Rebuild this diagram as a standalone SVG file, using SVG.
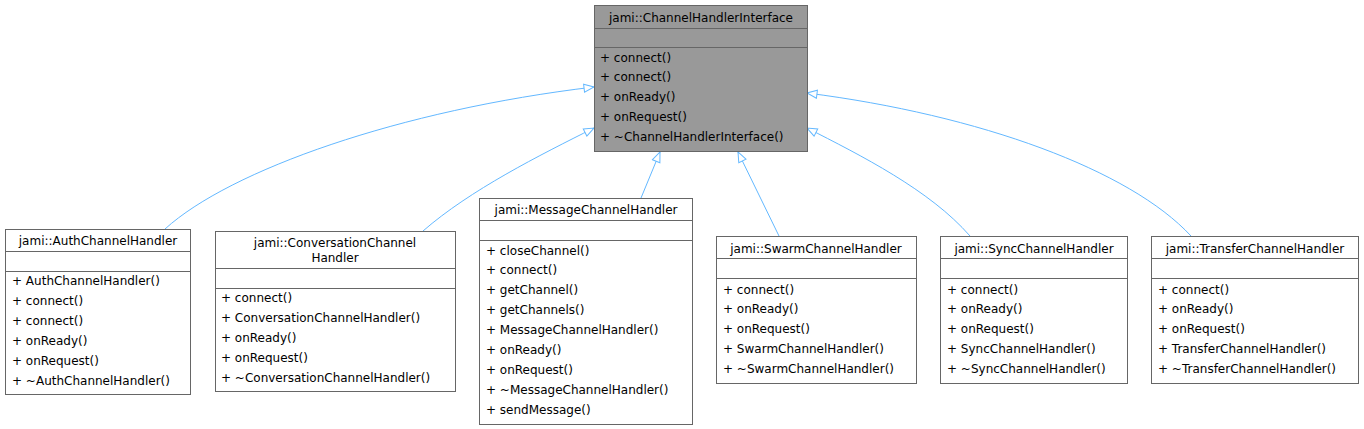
<svg xmlns="http://www.w3.org/2000/svg" width="1364" height="429" viewBox="0 0 1364 429">
<defs>
<marker id="tri" viewBox="0 0 12 10" refX="11" refY="5" markerWidth="12" markerHeight="10" markerUnits="userSpaceOnUse" orient="auto">
<path d="M1,1 L11,5 L1,9 Z" fill="#fff" stroke="#63b8ff" stroke-width="1"/>
</marker>
<style>
rect{fill:#fff;stroke:#666;stroke-width:1}
line{stroke:#666;stroke-width:1}
text{font-family:"DejaVu Sans",sans-serif;font-size:12px;fill:#000}
.c{text-anchor:middle}
.e{fill:none;stroke:#63b8ff;stroke-width:1;marker-end:url(#tri)}
#base rect{fill:#999}
</style>
</defs>
<g id="edges">
<path class="e" d="M165,229 C230,170 400,110 594,87"/>
<path class="e" d="M423,231 C470,190 540,155 594,128"/>
<path class="e" d="M641,198 L660,152"/>
<path class="e" d="M779,236 L738,152"/>
<path class="e" d="M970,236 C930,190 860,155 807,128"/>
<path class="e" d="M1191,236 C1130,170 980,115 807,93"/>
</g>
<g id="base">
<rect x="594.5" y="5.5" width="213" height="146"/>
<line x1="594.5" y1="28.5" x2="807.5" y2="28.5"/><line x1="594.5" y1="47.5" x2="807.5" y2="47.5"/>
<text class="c" x="701" y="22">jami::ChannelHandlerInterface</text>
<text x="600" y="62">+  connect()</text><text x="600" y="81">+  connect()</text><text x="600" y="101">+  onReady()</text><text x="600" y="121">+  onRequest()</text><text x="600" y="141">+  ~ChannelHandlerInterface()</text>
</g>
<g id="auth">
<rect x="5.5" y="229.5" width="185" height="165"/>
<line x1="5.5" y1="251.5" x2="190.5" y2="251.5"/><line x1="5.5" y1="271.5" x2="190.5" y2="271.5"/>
<text class="c" x="98" y="245">jami::AuthChannelHandler</text>
<text x="12" y="285">+  AuthChannelHandler()</text><text x="12" y="305">+  connect()</text><text x="12" y="325">+  connect()</text><text x="12" y="345">+  onReady()</text><text x="12" y="365">+  onRequest()</text><text x="12" y="385">+  ~AuthChannelHandler()</text>
</g>
<g id="conv">
<rect x="215.5" y="231.5" width="240" height="160"/>
<line x1="215.5" y1="268.5" x2="455.5" y2="268.5"/><line x1="215.5" y1="288.5" x2="455.5" y2="288.5"/>
<text class="c" x="335" y="247">jami::ConversationChannel</text><text class="c" x="335" y="262">Handler</text>
<text x="221" y="302">+  connect()</text><text x="221" y="322">+  ConversationChannelHandler()</text><text x="221" y="342">+  onReady()</text><text x="221" y="362">+  onRequest()</text><text x="221" y="382">+  ~ConversationChannelHandler()</text>
</g>
<g id="msg">
<rect x="479.5" y="198.5" width="213" height="226"/>
<line x1="479.5" y1="220.5" x2="692.5" y2="220.5"/><line x1="479.5" y1="240.5" x2="692.5" y2="240.5"/>
<text class="c" x="586" y="214">jami::MessageChannelHandler</text>
<text x="486" y="255">+  closeChannel()</text><text x="486" y="274">+  connect()</text><text x="486" y="294">+  getChannel()</text><text x="486" y="314">+  getChannels()</text><text x="486" y="334">+  MessageChannelHandler()</text><text x="486" y="354">+  onReady()</text><text x="486" y="374">+  onRequest()</text><text x="486" y="394">+  ~MessageChannelHandler()</text><text x="486" y="414">+  sendMessage()</text>
</g>
<g id="swarm">
<rect x="716.5" y="236.5" width="200" height="147"/>
<line x1="716.5" y1="258.5" x2="916.5" y2="258.5"/><line x1="716.5" y1="278.5" x2="916.5" y2="278.5"/>
<text class="c" x="816" y="253">jami::SwarmChannelHandler</text>
<text x="723" y="294">+  connect()</text><text x="723" y="313">+  onReady()</text><text x="723" y="333">+  onRequest()</text><text x="723" y="353">+  SwarmChannelHandler()</text><text x="723" y="373">+  ~SwarmChannelHandler()</text>
</g>
<g id="sync">
<rect x="940.5" y="236.5" width="187" height="147"/>
<line x1="940.5" y1="258.5" x2="1127.5" y2="258.5"/><line x1="940.5" y1="278.5" x2="1127.5" y2="278.5"/>
<text class="c" x="1034" y="253">jami::SyncChannelHandler</text>
<text x="947" y="294">+  connect()</text><text x="947" y="313">+  onReady()</text><text x="947" y="333">+  onRequest()</text><text x="947" y="353">+  SyncChannelHandler()</text><text x="947" y="373">+  ~SyncChannelHandler()</text>
</g>
<g id="transfer">
<rect x="1151.5" y="236.5" width="207" height="147"/>
<line x1="1151.5" y1="258.5" x2="1358.5" y2="258.5"/><line x1="1151.5" y1="278.5" x2="1358.5" y2="278.5"/>
<text class="c" x="1255" y="253">jami::TransferChannelHandler</text>
<text x="1158" y="294">+  connect()</text><text x="1158" y="313">+  onReady()</text><text x="1158" y="333">+  onRequest()</text><text x="1158" y="353">+  TransferChannelHandler()</text><text x="1158" y="373">+  ~TransferChannelHandler()</text>
</g>
</svg>
